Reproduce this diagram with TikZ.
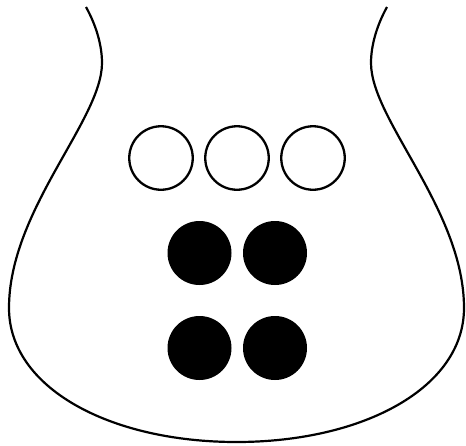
\documentclass[tikz,border=0pt]{standalone}
\begin{document}
\begin{tikzpicture}[x=1pt,y=-1pt,
  outline/.style={draw=black,line width=2.2pt},
  opencirc/.style={circle,draw=black,line width=2.3pt,fill=white,minimum size=63.5pt,inner sep=0pt},
  fullcirc/.style={circle,fill=black,minimum size=64pt,inner sep=0pt}]
\useasboundingbox[fill=white] (0,0) rectangle (466,445);
\draw[outline] (86,7) .. controls (96,25) and (102,45) .. (102,63)
  .. controls (102,120) and (9,210) .. (9,308)
  .. controls (9,388) and (110,442) .. (236.5,442)
  .. controls (363,442) and (464,388) .. (464,308)
  .. controls (464,210) and (371,120) .. (371,63)
  .. controls (371,45) and (377,25) .. (387,7);
\node[opencirc] (o1) at (161,158) {};
\node[opencirc] (o2) at (237,158) {};
\node[opencirc] (o3) at (313,158) {};
\node[fullcirc] (f1) at (199.5,253) {};
\node[fullcirc] (f2) at (275,253) {};
\node[fullcirc] (f3) at (199.5,348) {};
\node[fullcirc] (f4) at (275,348) {};
\end{tikzpicture}
\end{document}
